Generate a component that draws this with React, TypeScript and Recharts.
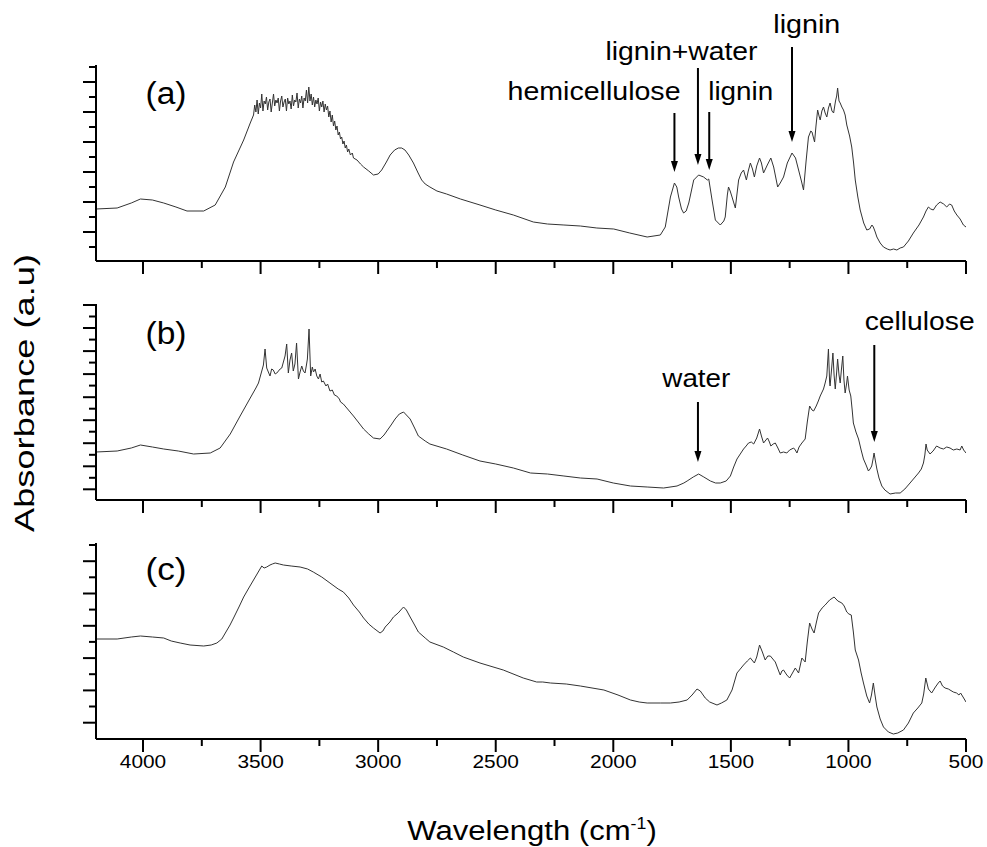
import React from 'react';
import { LineChart, Line, XAxis, YAxis, ReferenceLine, ReferenceDot } from 'recharts';

// ---------- data (wavenumber in cm-1, absorbance in arbitrary units) ----------
const wavenumberA = [4200, 4110, 4050, 4011, 3960, 3912, 3860, 3813, 3742, 3693, 3650, 3615, 3572, 3544,
  3530, 3525, 3520, 3515, 3510, 3505, 3500, 3495, 3490, 3485,
  3480, 3475, 3470, 3465, 3460, 3455, 3450, 3445, 3440, 3435,
  3430, 3425, 3420, 3415, 3410, 3405, 3400, 3395, 3390, 3385,
  3380, 3375, 3370, 3365, 3360, 3355, 3350, 3345, 3340, 3335,
  3330, 3325, 3320, 3315, 3310, 3305, 3300, 3295, 3290, 3285,
  3280, 3275, 3270, 3265, 3260, 3255, 3250, 3245, 3240, 3235,
  3230, 3225, 3220, 3215, 3210, 3205, 3200, 3195, 3190, 3185,
  3180, 3175, 3170, 3165, 3160, 3155, 3150, 3145, 3140, 3135, 3130, 3125, 3118, 3110, 3105,
  3090, 3075, 3062, 3040, 3020, 3000, 2985, 2965, 2949, 2930, 2914, 2900, 2886, 2870, 2850, 2830, 2815, 2800, 2780, 2750,
  2709, 2650, 2567, 2500, 2425, 2340, 2280, 2210, 2140, 2070, 1998, 1930, 1856, 1800, 1779, 1757, 1740, 1730, 1722,
  1710, 1701, 1690, 1679, 1658, 1637, 1616, 1600, 1594, 1586, 1580, 1566, 1545, 1530, 1524, 1515, 1510, 1503, 1495,
  1481, 1467, 1456, 1446, 1434, 1426, 1417, 1408, 1400, 1390, 1378, 1370, 1361, 1345, 1330, 1318, 1301, 1290, 1276,
  1260, 1240, 1225, 1212, 1200, 1191, 1180, 1170, 1160, 1155, 1144, 1138, 1131, 1125, 1120, 1113, 1106, 1099, 1092,
  1085, 1078, 1070, 1063, 1055, 1050, 1046, 1040, 1035, 1028, 1021, 1014, 1007, 995, 986, 978, 971, 960, 950, 935,
  922, 910, 900, 894, 886, 879, 865, 851, 835, 823, 808, 794, 780, 766, 745, 724, 700, 681, 670, 660, 650, 639, 625,
  610, 595, 582, 570, 561, 550, 539, 525, 511, 500];
const absorbanceA = [52, 53, 58, 62, 61, 58, 54, 50, 50, 56, 74, 99, 121, 138,
  146, 156, 149, 161, 147, 158, 153, 167, 150, 160,
  157, 164, 151, 159, 162, 149, 158, 167, 155, 161,
  158, 163, 150, 160, 165, 154, 159, 162, 150, 163,
  157, 160, 152, 166, 155, 161, 159, 168, 153, 162,
  158, 165, 153, 163, 160, 171, 158, 174, 160, 167,
  156, 164, 154, 161, 157, 163, 150, 159, 154, 160,
  149, 157, 151, 155, 144, 150, 139, 146, 135, 140,
  131, 135, 126, 129, 122, 124, 117, 120, 113, 116, 109, 112, 106, 108, 103,
  101, 97, 94, 90, 86, 87, 91, 99, 106, 111, 113, 113, 111, 106, 98, 88, 81, 77, 74, 70,
  67, 62, 56, 51, 46, 39, 37, 36, 35, 33, 32, 28, 24, 26, 34, 64, 78, 74, 64,
  52, 48, 50, 58, 81, 86, 84, 81, 82, 70, 61, 41, 36, 40, 44, 66, 74, 70, 64,
  53, 81, 88, 91, 81, 90, 98, 92, 84, 95, 103, 98, 88, 96, 103, 94, 74, 78, 84,
  98, 108, 103, 91, 80, 71, 100, 124, 130, 129, 119, 135, 151, 145, 141, 150, 154, 148, 144,
  153, 158, 150, 148, 160, 165, 173, 160, 158, 154, 151, 146, 136, 125, 114, 98, 81, 64, 51, 38,
  31, 32, 36, 34, 29, 24, 18, 14, 12, 11, 12, 11, 13, 14, 20, 28, 36, 44, 50, 54, 52, 51, 56,
  59, 57, 54, 57, 56, 50, 46, 42, 36, 34];

const wavenumberB = [4200, 4110, 4050, 4011, 3960, 3912, 3850, 3785, 3714, 3672, 3629, 3587, 3544, 3520, 3509, 3495,
  3488, 3481, 3474, 3467, 3460, 3453, 3446, 3438, 3431, 3424, 3417, 3410, 3403, 3396, 3389, 3382, 3375, 3368, 3361,
  3354, 3347, 3339, 3332, 3325, 3318, 3311, 3305, 3301, 3294, 3287, 3280, 3275, 3268, 3261, 3254, 3247, 3240, 3233,
  3222, 3215, 3205, 3195, 3186, 3176, 3165, 3160, 3148, 3130, 3105, 3085, 3062, 3040, 3020, 2992, 2975, 2963, 2945,
  2928, 2910, 2892, 2880, 2864, 2845, 2829, 2800, 2780, 2709, 2640, 2567, 2500, 2425, 2352, 2280, 2210, 2140, 2069,
  2000, 1927, 1856, 1786, 1729, 1700, 1686, 1660, 1637, 1615, 1587, 1565, 1545, 1520, 1502, 1488, 1474, 1460, 1446,
  1435, 1425, 1413, 1403, 1390, 1378, 1370, 1361, 1344, 1336, 1330, 1320, 1311, 1300, 1290, 1276, 1262, 1250, 1233,
  1226, 1219, 1210, 1198, 1184, 1175, 1165, 1155, 1148, 1137, 1128, 1120, 1106, 1099, 1092, 1085, 1080, 1078, 1072,
  1066, 1061, 1056, 1050, 1046, 1040, 1035, 1030, 1024, 1019, 1014, 1008, 1004, 997, 990, 984, 979, 968, 957, 946,
  936, 925, 915, 908, 901, 896, 891, 886, 879, 870, 858, 845, 823, 800, 780, 760, 738, 720, 702, 690, 681, 675, 670,
  665, 653, 640, 625, 610, 596, 582, 568, 554, 539, 525, 518, 510, 500];
const absorbanceB = [48, 49, 52, 55, 53, 51, 49, 46, 47, 52, 66, 84, 102, 112, 117, 129,
  135, 151, 132, 128, 124, 131, 130, 126, 127, 129, 131, 132, 138, 144, 156, 127, 140, 147, 129,
  136, 157, 121, 128, 134, 129, 127, 135, 141, 171, 124, 133, 128, 131, 124, 121, 126, 118, 119,
  114, 116, 109, 110, 105, 104, 101, 98, 96, 91, 84, 78, 71, 66, 62, 61, 65, 69, 75,
  81, 86, 88, 85, 81, 72, 64, 59, 56, 51, 45, 39, 36, 32, 27, 26, 24, 22, 21,
  17, 14, 13, 12, 14, 17, 19, 23, 26, 23, 19, 17, 17, 19, 24, 33, 41, 46, 51,
  54, 57, 58, 56, 62, 71, 64, 57, 62, 58, 54, 56, 57, 52, 47, 48, 47, 50, 52,
  50, 47, 53, 57, 61, 78, 94, 90, 89, 94, 99, 104, 111, 117, 124, 151, 118, 114, 130,
  147, 125, 111, 128, 141, 125, 117, 130, 144, 120, 107, 116, 124, 110, 104, 90, 77, 68, 61, 50,
  41, 35, 29, 31, 34, 40, 47, 40, 31, 22, 14, 10, 6, 7, 7, 11, 17, 22, 27, 31, 37, 45, 56,
  50, 46, 49, 54, 52, 51, 53, 52, 50, 51, 50, 54, 50, 47];

const wavenumberC = [4200, 4110, 4050, 4011, 3960, 3912, 3880, 3842, 3800, 3742, 3710, 3686, 3665, 3650, 3630, 3615,
  3590, 3572, 3550, 3530, 3510, 3495, 3485, 3474, 3460, 3450, 3438, 3420, 3403, 3370, 3332, 3300, 3276, 3240, 3205,
  3170, 3148, 3125, 3105, 3080, 3062, 3040, 3020, 2992, 2980, 2970, 2950, 2935, 2915, 2900, 2892, 2880, 2864, 2845,
  2829, 2800, 2780, 2723, 2680, 2638, 2567, 2468, 2383, 2326, 2300, 2267, 2200, 2140, 2040, 1980, 1927, 1890, 1856,
  1800, 1757, 1720, 1686, 1665, 1644, 1630, 1609, 1590, 1559, 1540, 1517, 1495, 1474, 1460, 1446, 1430, 1417, 1400,
  1390, 1378, 1366, 1354, 1343, 1332, 1311, 1300, 1290, 1283, 1276, 1262, 1250, 1238, 1226, 1212, 1198, 1184, 1175,
  1165, 1155, 1146, 1136, 1127, 1112, 1099, 1080, 1061, 1045, 1028, 1018, 1007, 998, 988, 979, 971, 964, 957, 946,
  936, 922, 910, 902, 894, 887, 879, 865, 851, 830, 809, 790, 766, 745, 724, 705, 688, 680, 671, 660, 646, 630, 618,
  610, 600, 589, 575, 554, 540, 530, 523, 510, 500];
const absorbanceC = [100, 100, 102, 103, 102, 101, 98, 96, 94, 93, 94, 96, 100, 106, 114, 121,
  133, 142, 151, 159, 167, 173, 171, 172, 174, 175, 176, 175, 174, 173, 172, 170, 167, 162, 156,
  150, 147, 141, 134, 127, 121, 115, 111, 106, 108, 112, 117, 122, 126, 130, 132, 129, 122, 114,
  107, 101, 97, 92, 87, 82, 76, 69, 61, 57, 57, 56, 55, 53, 49, 44, 39, 37, 36,
  36, 36, 37, 39, 44, 50, 48, 41, 37, 34, 36, 39, 49, 66, 70, 74, 78, 81, 76,
  82, 94, 87, 79, 83, 83, 77, 70, 64, 68, 69, 64, 61, 66, 71, 66, 81, 77, 97,
  116, 110, 106, 117, 126, 131, 134, 139, 142, 138, 136, 133, 127, 125, 124, 107, 89, 84, 79, 66,
  56, 43, 36, 44, 56, 44, 32, 20, 12, 7, 5, 6, 9, 16, 26, 31, 36, 45, 61, 50, 46, 52, 56,
  58, 53, 51, 50, 47, 46, 44, 46, 41, 37];

const xTicks = [4000, 3750, 3500, 3250, 3000, 2750, 2500, 2250, 2000, 1750, 1500, 1250, 1000, 750, 500];
const yTicksA = [194, 179, 164, 149, 134, 119, 104, 89, 74, 59, 44, 29, 14];
const yTicksB = [195, 183.5, 172, 160.4, 148.9, 137.4, 125.9, 114.4, 102.8, 91.3, 79.8, 68.3, 56.8, 45.2, 33.7, 22.2, 10.7];
const yTicksC = [194, 177.8, 161.7, 145.5, 129.4, 113.2, 97.1, 80.9, 64.8, 48.6, 32.5, 16.3];

const annotationsA = [
  { label: 'hemicellulose', textW: 2082, textY: 161, arrowW: 1740, from: 148, to: 89, len: 173 },
  { label: 'lignin+water', textW: 1710, textY: 201, arrowW: 1640, from: 193, to: 96, len: 152 },
  { label: 'lignin', textW: 1458, textY: 161, arrowW: 1592, from: 149, to: 91, len: 65 },
  { label: 'lignin', textW: 1177, textY: 228, arrowW: 1240, from: 214, to: 119, len: 67 },
];
const annotationsB = [
  { label: 'water', textW: 1647, textY: 113, arrowW: 1640, from: 98, to: 38, len: 68 },
  { label: 'cellulose', textW: 697, textY: 170, arrowW: 890, from: 155, to: 58, len: 110 },
];

const FONT = '"Liberation Sans", Arial, Helvetica, sans-serif';

const toData = (w: number[], a: number[]) => w.map((v, i) => ({ w: v, a: a[i] }));

const XTick = (props: any) => {
  const { x, y, payload, showLabels } = props;
  const v = payload.value;
  const major = v % 500 === 0;
  const len = major ? 13 : 7;
  const s = String(v);
  return (
    <g>
      <line x1={x} x2={x} y1={y} y2={y + len} stroke="#000" strokeWidth={2} />
      {showLabels && major ? (
        <text x={x} y={y + 29} textAnchor="middle" fontFamily={FONT} fontSize={19} fill="#000"
          textLength={s.length * 11.6} lengthAdjust="spacingAndGlyphs">{s}</text>
      ) : null}
    </g>
  );
};

const YTick = (props: any) => {
  const { x, y, index, firstLong } = props;
  const long = firstLong ? index % 2 === 0 : index % 2 === 1;
  const len = long ? 13 : 7;
  return <line x1={x - len} x2={x} y1={y} y2={y} stroke="#000" strokeWidth={2} />;
};

const ArrowShape = (props: any) => {
  const { x1, y1, x2, y2 } = props;
  if (x1 == null) return null;
  const head = 11;
  return (
    <g>
      <line x1={x1} y1={y1} x2={x2} y2={y2 - head + 1} stroke="#000" strokeWidth={2} />
      <polygon points={`${x2},${y2} ${x2 - 3.5},${y2 - head} ${x2 + 3.5},${y2 - head}`} fill="#000" />
    </g>
  );
};

const makeLabelShape = (label: string, len: number) => (props: any) => {
  const { cx, cy } = props;
  return (
    <text x={cx} y={cy} textAnchor="middle" fontFamily={FONT} fontSize={25.5} fill="#000"
      textLength={len} lengthAdjust="spacingAndGlyphs">{label}</text>
  );
};

type PanelProps = {
  top: number; height: number; marginTop: number; xHeight: number;
  data: { w: number; a: number }[]; yTicks: number[]; firstLong: boolean;
  showLabels: boolean; annotations: any[];
};

const Panel = ({ top, height, marginTop, xHeight, data, yTicks, firstLong, showLabels, annotations }: PanelProps) => (
  <div style={{ position: 'absolute', left: 0, top, width: 987, height }}>
    <LineChart width={987} height={height} data={data}
      margin={{ top: marginTop, right: 21, bottom: 0, left: 0 }}>
      <XAxis dataKey="w" type="number" domain={[500, 4200]} reversed allowDataOverflow
        ticks={xTicks} interval={0} height={xHeight} tickSize={0} tickMargin={0} tickLine={false}
        axisLine={{ stroke: '#000', strokeWidth: 2 }}
        tick={(p: any) => <XTick {...p} showLabels={showLabels} />} />
      <YAxis type="number" domain={[0, 196]} allowDataOverflow width={96}
        ticks={yTicks} interval={0} tickSize={0} tickMargin={0} tickLine={false}
        axisLine={{ stroke: '#000', strokeWidth: 2 }}
        tick={(p: any) => <YTick {...p} firstLong={firstLong} />} />
      <Line dataKey="a" type="linear" stroke="#333" strokeWidth={1} dot={false}
        activeDot={false} isAnimationActive={false} />
      {annotations.map((an, i) => (
        <ReferenceLine key={`l${i}`} ifOverflow="visible"
          segment={[{ x: an.arrowW, y: an.from }, { x: an.arrowW, y: an.to }]}
          shape={ArrowShape} />
      ))}
      {annotations.map((an, i) => (
        <ReferenceDot key={`t${i}`} ifOverflow="visible" x={an.textW} y={an.textY} r={0}
          shape={makeLabelShape(an.label, an.len)} />
      ))}
    </LineChart>
  </div>
);

export default function App() {
  return (
    <div style={{ position: 'absolute', left: 0, top: 0, width: 987, height: 847, background: '#fff' }}>
      <Panel top={0} height={281} marginTop={65} xHeight={20} data={toData(wavenumberA, absorbanceA)}
        yTicks={yTicksA} firstLong={false} showLabels={false} annotations={annotationsA} />
      <Panel top={290} height={230} marginTop={14} xHeight={20} data={toData(wavenumberB, absorbanceB)}
        yTicks={yTicksB} firstLong={true} showLabels={false} annotations={annotationsB} />
      <Panel top={530} height={317} marginTop={13} xHeight={108} data={toData(wavenumberC, absorbanceC)}
        yTicks={yTicksC} firstLong={false} showLabels={true} annotations={[]} />
      <svg width={987} height={847} style={{ position: 'absolute', left: 0, top: 0, pointerEvents: 'none' }}>
        <g fontFamily={FONT} fill="#000">
          <text x={166} y={103.5} textAnchor="middle" fontSize={31} textLength={41} lengthAdjust="spacingAndGlyphs">(a)</text>
          <text x={166} y={343.5} textAnchor="middle" fontSize={31} textLength={41} lengthAdjust="spacingAndGlyphs">(b)</text>
          <text x={166} y={580} textAnchor="middle" fontSize={31} textLength={41} lengthAdjust="spacingAndGlyphs">(c)</text>
          <text transform="translate(34,393) rotate(-90)" textAnchor="middle" fontSize={28}
            textLength={278} lengthAdjust="spacingAndGlyphs">Absorbance (a.u)</text>
          <text transform="translate(532,840) scale(1.11,1)" textAnchor="middle" fontSize={28}>
            Wavelength (cm<tspan dy={-11} fontSize={16}>-1</tspan><tspan dy={11}>)</tspan>
          </text>
        </g>
      </svg>
    </div>
  );
}
